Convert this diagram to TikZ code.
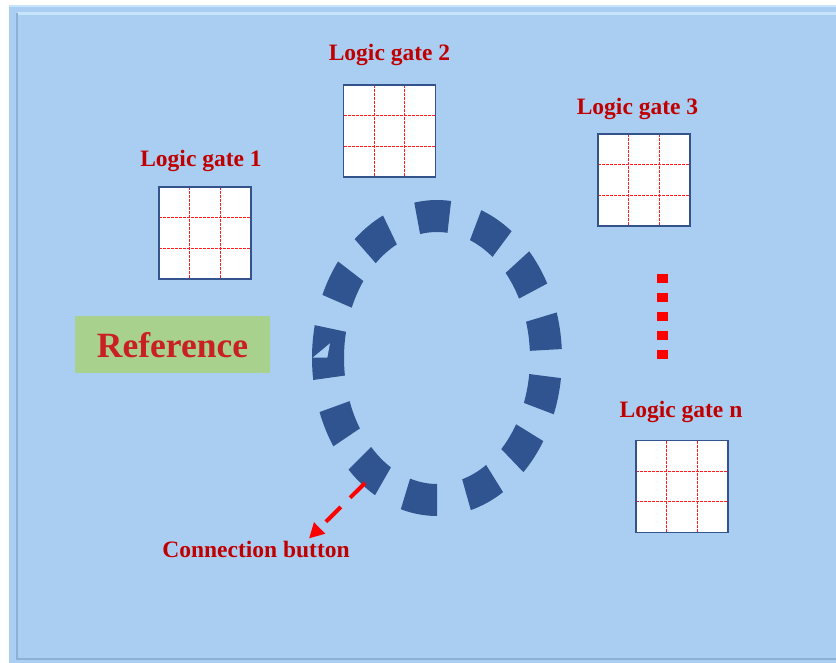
\documentclass[tikz,border=0pt]{standalone}
\usepackage{fontspec}
\setmainfont{Liberation Serif}
\usetikzlibrary{arrows.meta,calc}
\definecolor{bgblue}{RGB}{170,206,242}
\definecolor{bgdark}{RGB}{140,176,212}
\definecolor{bglight}{RGB}{198,228,250}
\definecolor{segblue}{RGB}{47,84,143}
\definecolor{boxblue}{RGB}{52,82,140}
\definecolor{gridred}{RGB}{255,30,30}
\definecolor{labelred}{RGB}{192,0,0}
\definecolor{refred}{RGB}{201,33,33}
\definecolor{refgreen}{RGB}{169,209,142}
\definecolor{pured}{RGB}{255,0,0}
\begin{document}
\begin{tikzpicture}[x=1pt,y=-1pt,
  gatebox/.style={draw=boxblue, line width=1.5pt, fill=white,
    minimum width=92pt, minimum height=92pt, inner sep=0pt, outer sep=0pt,
    path picture={
      \foreach \f in {0.3333,0.6667}{
        \draw[gridred, line width=1pt, dash pattern=on 3pt off 1pt]
          ($(path picture bounding box.north west)!\f!(path picture bounding box.north east)$) --
          ($(path picture bounding box.south west)!\f!(path picture bounding box.south east)$);
        \draw[gridred, line width=1pt, dash pattern=on 3pt off 1pt]
          ($(path picture bounding box.north west)!\f!(path picture bounding box.south west)$) --
          ($(path picture bounding box.north east)!\f!(path picture bounding box.south east)$);
      }}},
  gatelabel/.style={text=labelred, font=\fontsize{23.5}{28}\selectfont\bfseries, inner sep=0pt, anchor=base},
  ringseg/.style={fill=segblue}
]
\useasboundingbox (0,0) rectangle (836,663);
% background frame
\fill[white] (0,0) rectangle (836,663);
\fill[bgblue] (9,5) rectangle (836,663);
\draw[bglight, line width=2pt] (9,6) -- (836,6);
\draw[bglight, line width=2.5pt] (17,13.5) -- (836,13.5);
\draw[bgdark, line width=1.5pt] (17,13) -- (17,659) -- (836,659);

% reference box
\node[fill=refgreen, minimum width=195pt, minimum height=57pt, inner sep=0pt] (refbox) at (172.5,344.7) {};
\node[text=refred, font=\fontsize{35.5}{40}\selectfont\bfseries, inner sep=0pt, anchor=base] (reftext) at (172.5,357.5) {Reference};

% ring of connection buttons
\foreach \t in {92,61.3,35.3,10,-14.1,-39,-66.2,-98.4,-127.4,-153,149.4,123.4}{
  \pgfmathsetmacro\hs{deg(1.85/sqrt((12.5*sin(\t))^2+(15.8*cos(\t))^2))}
  \pgfmathsetmacro\ta{\t-\hs}
  \pgfmathsetmacro\tb{\t+\hs}
  \fill[ringseg] plot[domain=\ta:\tb,samples=9] ({437+125*cos(\x)},{358-158*sin(\x)})
    -- plot[domain=\tb:\ta,samples=9] ({437+93*cos(\x)},{358-126*sin(\x)}) -- cycle;
}
\fill[ringseg] plot[domain=168:188,samples=12] ({437+125*cos(\x)},{358-158*sin(\x)})
  -- plot[domain=188:168,samples=12] ({437+93*cos(\x)},{358-126*sin(\x)}) -- cycle;
\fill[bgblue] (312.7,357.7) -- (330,343.3) -- (327.3,357.7) -- cycle;

% logic gates
\node[gatebox] (g1) at (205,233) {};
\node[gatebox] (g2) at (389.5,131) {};
\node[gatebox] (g3) at (644,180) {};
\node[gatebox] (gn) at (682,486.5) {};
\node[gatelabel] (l1) at (201,166.5) {Logic gate 1};
\node[gatelabel] (l2) at (389.5,61) {Logic gate 2};
\node[gatelabel] (l3) at (637.5,114.5) {Logic gate 3};
\node[gatelabel] (ln) at (681,417.5) {Logic gate n};

% vertical dots
\coordinate (dtop) at (662,273.7);
\coordinate (dbot) at (662,359.3);
\draw[pured, line width=11pt, dash pattern=on 9.6pt off 9.4pt] (dtop) -- (dbot);

% connection button arrow
\coordinate (btn) at (365,483);
\coordinate (tip) at (309,538.5);
\draw[pured, line width=4pt, dash pattern=on 21pt off 13pt, -{Triangle[length=15pt,width=15pt]}] (btn) -- (tip);
\node[gatelabel] (cb) at (256,557.5) {Connection button};
\end{tikzpicture}
\end{document}
